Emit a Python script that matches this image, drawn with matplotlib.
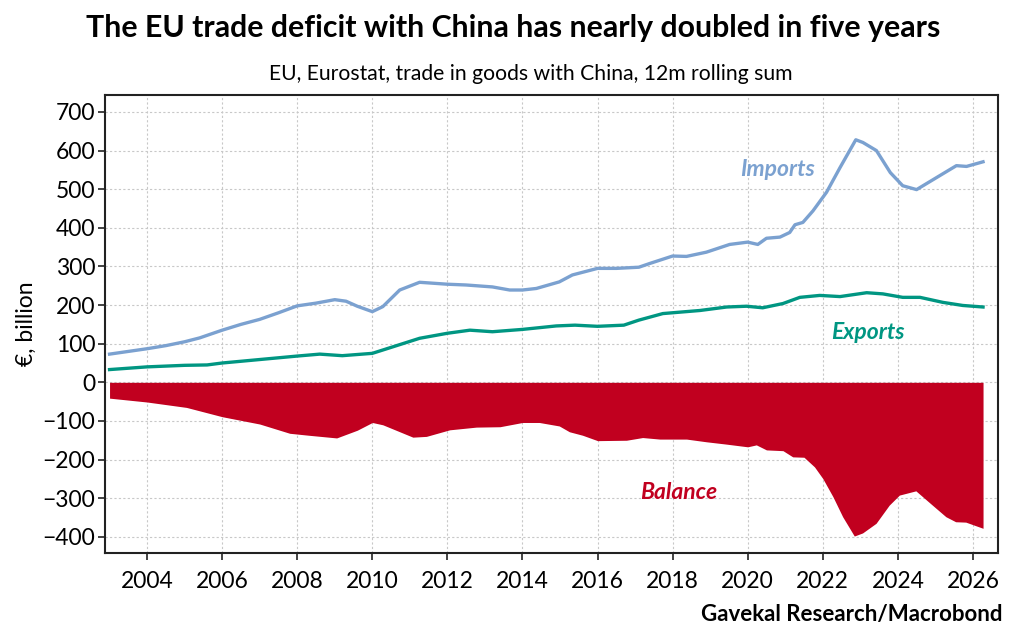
import numpy as np
import matplotlib
matplotlib.use("Agg")
import matplotlib.pyplot as plt

# values (year as decimal, EUR bn)
imp_x = [2003.0, 2003.5, 2004.0, 2004.5, 2005.0, 2005.4, 2006.0, 2006.5, 2007.0, 2007.5,
         2008.0, 2008.5, 2009.0, 2009.3, 2009.6, 2010.0, 2010.28, 2010.73, 2011.26, 2012.0,
         2012.5, 2013.2, 2013.66, 2014.0, 2014.37, 2014.98, 2015.33, 2016.0, 2016.5, 2017.1,
         2017.4, 2018.0, 2018.37, 2018.9, 2019.52, 2020.0, 2020.27, 2020.5, 2020.86, 2021.12,
         2021.26, 2021.47, 2021.74, 2022.1, 2022.46, 2022.88, 2023.07, 2023.43, 2023.8, 2024.13,
         2024.5, 2024.67, 2025.2, 2025.56, 2025.83, 2026.27]
imports = [73, 80, 87, 95, 105, 115, 135, 150, 163, 180,
           198, 205, 214, 210, 197, 183, 196, 239, 259, 254,
           252, 247, 239, 239, 243, 260, 278, 295, 295, 298,
           308, 327, 326, 337, 357, 363, 357, 373, 376, 388,
           408, 414, 444, 492, 556, 628, 621, 600, 543, 509,
           499, 509, 540, 561, 559, 571]

exp_x = [2003.0, 2004.0, 2005.0, 2005.6, 2006.0, 2007.0, 2008.0, 2008.6, 2009.2, 2009.6,
         2010.0, 2010.55, 2011.26, 2012.0, 2012.6, 2013.2, 2014.0, 2014.9, 2015.4, 2016.0,
         2016.7, 2017.1, 2017.74, 2018.73, 2019.44, 2019.97, 2020.4, 2020.94, 2021.39, 2021.92,
         2022.46, 2023.17, 2023.6, 2024.13, 2024.59, 2025.2, 2025.73, 2026.27]
exports = [33, 40, 44, 45, 50, 59, 68, 73, 69, 72,
           75, 92, 114, 127, 135, 131, 137, 146, 148, 145,
           148, 161, 178, 186, 195, 197, 193, 204, 220, 225,
           222, 232, 229, 220, 220, 207, 199, 195]

bal_x = [2003.0, 2004.0, 2005.05, 2006.0, 2007.0, 2007.8, 2008.3, 2009.05, 2009.6, 2010.0,
         2010.28, 2011.08, 2011.44, 2012.06, 2012.77, 2013.4, 2014.0, 2014.45, 2014.98, 2015.25,
         2015.6, 2016.0, 2016.77, 2017.2, 2017.66, 2018.37, 2018.9, 2019.43, 2020.0, 2020.23,
         2020.5, 2020.94, 2021.2, 2021.5, 2021.78, 2022.0, 2022.27, 2022.53, 2022.84, 2023.06,
         2023.42, 2023.77, 2024.04, 2024.48, 2024.92, 2025.28, 2025.54, 2025.81, 2026.27]
balance = [-41, -51, -65, -89, -108, -132, -137, -144, -124, -104,
           -110, -142, -140, -123, -116, -115, -104, -104, -113, -128,
           -137, -151, -150, -143, -147, -147, -154, -160, -167, -162,
           -175, -177, -193, -194, -219, -249, -296, -348, -398, -390,
           -365, -318, -292, -281, -318, -348, -361, -362, -378]

C_IMP = "#7ba1d0"
C_EXP = "#009682"
C_BAL = "#c1001f"
FONT = "Lato"

plt.rcParams["font.family"] = [FONT, "DejaVu Sans"]

fig = plt.figure(figsize=(10.11, 6.4), dpi=100)
ax = fig.add_axes([0.1039, 0.1359, 0.8833, 0.7157])

ax.fill_between(bal_x, 0, balance, color=C_BAL, lw=0, zorder=2)
ax.plot(imp_x, imports, color=C_IMP, lw=2.4, zorder=3)
ax.plot(exp_x, exports, color=C_EXP, lw=2.4, zorder=3)

ax.set_xlim(2002.88, 2026.67)
ax.set_ylim(-442, 744)
ax.set_xticks(np.arange(2004, 2027, 2))
ax.set_yticks(np.arange(-400, 701, 100))
ax.tick_params(axis="both", labelsize=16.5, direction="out", length=5, width=1.2, color="#222")
ax.tick_params(axis="x", pad=8)
ax.tick_params(axis="y", pad=2)
ax.grid(True, ls=(0, (2, 2)), color="#c8c8c8", lw=0.8, zorder=0)
ax.set_axisbelow(True)
for s in ax.spines.values():
    s.set_color("#222")
    s.set_linewidth(1.5)

ax.set_ylabel("€, billion", fontsize=16.5, labelpad=4)

ax.text(2020.8, 552, "Imports", color=C_IMP, fontsize=16.5, style="italic", weight="bold", ha="center", va="center")
ax.text(2023.2, 130, "Exports", color=C_EXP, fontsize=16.5, style="italic", weight="bold", ha="center", va="center")
ax.text(2018.17, -284, "Balance", color=C_BAL, fontsize=16.5, style="italic", weight="bold", ha="center", va="center")

fig.text(0.508, 0.957, "The EU trade deficit with China has nearly doubled in five years",
         fontsize=21.8, weight="bold", ha="center", va="center")
fig.text(0.525, 0.884, "EU, Eurostat, trade in goods with China, 12m rolling sum",
         fontsize=15.2, ha="center", va="center")
fig.text(0.992, 0.040, "Gavekal Research/Macrobond", fontsize=16, weight="bold", ha="right", va="center")

fig.savefig("out.png", dpi=100)
